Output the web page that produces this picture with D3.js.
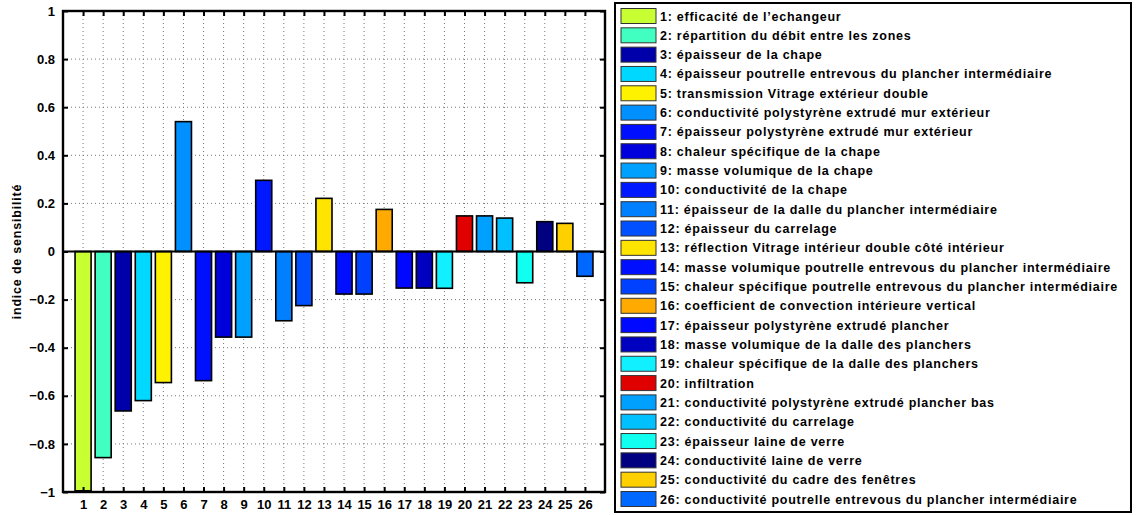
<!DOCTYPE html>
<html><head><meta charset="utf-8">
<script src="https://cdn.jsdelivr.net/npm/d3@7"></script>
<style>body{margin:0;background:#fff}svg{display:block}text{font-family:"Liberation Sans",Arial,sans-serif;font-weight:bold}</style>
</head><body><svg id="c" width="1136" height="515"></svg>
<script>
const categories = d3.range(1, 27);
const values = [-0.995, -0.857, -0.663, -0.620, -0.545, 0.540, -0.537, -0.356, -0.356, 0.296,
  -0.288, -0.225, 0.221, -0.177, -0.177, 0.175, -0.152, -0.152, -0.153, 0.148,
  0.148, 0.139, -0.130, 0.124, 0.117, -0.103];
const colors = ["#c8ff32", "#40ffc0", "#0000aa", "#00d8ff", "#fff200", "#0090ff", "#0010ff", "#0000dd", "#00a0ff", "#0018ff",
  "#0080ff", "#0050ff", "#ffe400", "#0010ff", "#0040ff", "#ffaa00", "#0008ff", "#0000c0", "#10f0ff", "#e00000",
  "#00a0ff", "#00c0ff", "#10fff0", "#000080", "#ffd000", "#0068ff"];
const labels = ["efficacité de l’echangeur", "répartition du débit entre les zones", "épaisseur de la chape",
  "épaisseur poutrelle entrevous du plancher intermédiaire", "transmission Vitrage extérieur double",
  "conductivité polystyrène extrudé mur extérieur", "épaisseur polystyrène extrudé mur extérieur",
  "chaleur spécifique de la chape", "masse volumique de la chape", "conductivité de la chape",
  "épaisseur de la dalle du plancher intermédiaire", "épaisseur du carrelage",
  "réflection Vitrage intérieur double côté intérieur", "masse volumique poutrelle entrevous du plancher intermédiaire",
  "chaleur spécifique poutrelle entrevous du plancher intermédiaire", "coefficient de convection intérieure vertical",
  "épaisseur polystyrène extrudé plancher", "masse volumique de la dalle des planchers",
  "chaleur spécifique de la dalle des planchers", "infiltration", "conductivité polystyrène extrudé plancher bas",
  "conductivité du carrelage", "épaisseur laine de verre", "conductivité laine de verre",
  "conductivité du cadre des fenêtres", "conductivité poutrelle entrevous du plancher intermédiaire"];
const yTicks = [-1, -0.8, -0.6, -0.4, -0.2, 0, 0.2, 0.4, 0.6, 0.8, 1];

const svg = d3.select("#c");
const L = 63, R = 605, T = 11, B = 492;
const x = d3.scaleLinear().domain([0, 27]).range([L, R]);
const y = d3.scaleLinear().domain([-1, 1]).range([B, T]);
const bw = (x(1) - x(0)) * 0.8;

// grid
const g = svg.append("g");
g.selectAll(".gx").data(categories).join("line")
  .attr("x1", d => x(d)).attr("x2", d => x(d)).attr("y1", T).attr("y2", B)
  .attr("stroke", "#777").attr("stroke-width", 1).attr("stroke-dasharray", "1,3");
g.selectAll(".gy").data(yTicks.slice(1, -1)).join("line")
  .attr("x1", L).attr("x2", R).attr("y1", d => y(d)).attr("y2", d => y(d))
  .attr("stroke", "#777").attr("stroke-width", 1).attr("stroke-dasharray", "1,3");

// bars
svg.append("g").selectAll("rect").data(values).join("rect")
  .attr("x", (d, i) => x(categories[i]) - bw / 2)
  .attr("width", bw)
  .attr("y", d => y(Math.max(0, d)))
  .attr("height", d => Math.abs(y(d) - y(0)))
  .attr("fill", (d, i) => colors[i])
  .attr("stroke", "#000").attr("stroke-width", 1.6);

// zero line
svg.append("line").attr("x1", L).attr("x2", R).attr("y1", y(0)).attr("y2", y(0))
  .attr("stroke", "#000").attr("stroke-width", 1.8);

// axes
const fmt = d => d === 0 ? "0" : (d < 0 ? "\u2212" : "") + (Math.abs(d) === 1 ? "1" : d3.format(".1f")(Math.abs(d)));
const ax = svg.append("g").attr("transform", `translate(0,${B})`)
  .call(d3.axisBottom(x).tickValues(categories).tickSize(-5).tickPadding(8).tickFormat(d3.format("d")));
const axT = svg.append("g").attr("transform", `translate(0,${T})`)
  .call(d3.axisTop(x).tickValues(categories).tickSize(-5).tickFormat(""));
const ay = svg.append("g").attr("transform", `translate(${L},0)`)
  .call(d3.axisLeft(y).tickValues(yTicks).tickSize(-5).tickPadding(8).tickFormat(fmt));
const ayR = svg.append("g").attr("transform", `translate(${R},0)`)
  .call(d3.axisRight(y).tickValues(yTicks).tickSize(-5).tickFormat(""));
[ax, axT, ay, ayR].forEach(a => {
  a.select(".domain").remove();
  a.selectAll(".tick line").attr("stroke", "#000").attr("stroke-width", 2);
  a.selectAll("text").attr("font-size", 13).attr("font-weight", "bold").attr("fill", "#000")
    .attr("font-family", "Liberation Sans, Arial, sans-serif");
});
svg.append("rect").attr("x", L).attr("y", T).attr("width", R - L).attr("height", B - T)
  .attr("fill", "none").attr("stroke", "#000").attr("stroke-width", 2.4);

// y label
svg.append("text").attr("transform", `translate(21,${(T + B) / 2}) rotate(-90)`)
  .attr("text-anchor", "middle").attr("font-size", 12.5).attr("letter-spacing", 0.8)
  .text("indice de sensibilité");

// legend
const lg = svg.append("g");
lg.append("rect").attr("x", 615).attr("y", 3).attr("width", 516).attr("height", 509)
  .attr("fill", "#fff").attr("stroke", "#000").attr("stroke-width", 2);
const rowY = d3.scaleLinear().domain([0, 25]).range([16, 499]);
const items = lg.selectAll(".it").data(labels).join("g")
  .attr("transform", (d, i) => `translate(0,${rowY(i)})`);
items.append("rect").attr("x", 621).attr("y", -7.5).attr("width", 35).attr("height", 15)
  .attr("fill", (d, i) => colors[i]).attr("stroke", "#333").attr("stroke-width", 1);
items.append("text").attr("x", 660).attr("y", 4.5).attr("font-size", 12.5).attr("letter-spacing", 0.75)
  .text((d, i) => `${categories[i]}: ${d}`);
</script></body></html>
